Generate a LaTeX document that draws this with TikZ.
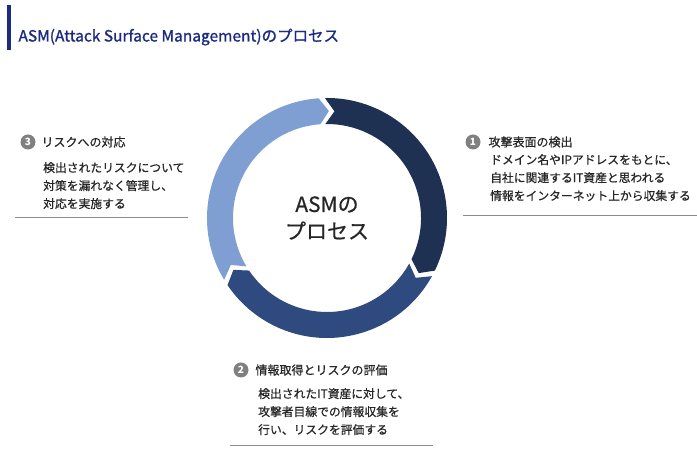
\documentclass[tikz,border=0pt]{standalone}
\usepackage{fontspec}
\setmainfont{Noto Sans CJK JP}
\newfontfamily\fb[FakeBold=1.2]{Noto Sans CJK JP}
\newfontfamily\fm[FakeBold=0.6]{Noto Sans CJK JP}
\definecolor{segA}{HTML}{1F3153}
\definecolor{segB}{HTML}{2E4A7F}
\definecolor{segC}{HTML}{7F9FD3}
\definecolor{ttl}{HTML}{1C2A80}
\definecolor{txt}{HTML}{262626}
\tikzset{
  numc/.style={circle,fill=black!50,text=white,inner sep=0pt,minimum size=15pt,font=\fontsize{10}{10}\selectfont\bfseries},
  head/.style={anchor=west,text=txt,font=\fm\fontsize{12}{15}\selectfont},
  body/.style={anchor=north west,text=txt,align=left,inner sep=0pt,font=\fm\fontsize{11.8}{18}\selectfont},
  rule/.style={draw=black!45,line width=1pt}
}
\usetikzlibrary{calc}
\newcommand{\seg}[2]{%
  \fill[#2] (327,239) ++(#1:120) arc[start angle=#1,end angle=#1-117,radius=120]
    -- ($(327,239)+(#1-122:107)$) -- ($(327,239)+(#1-117:94)$)
    arc[start angle=#1-117,end angle=#1,radius=94]
    -- ($(327,239)+(#1-5:107)$) -- cycle;}
\begin{document}
\begin{tikzpicture}[x=1pt,y=1pt]
\useasboundingbox (0,0) rectangle (697,457);
\fill[ttl] (7,407) rectangle (11,452);
\node[anchor=west,text=ttl,font=\fb\fontsize{15.5}{18}\selectfont] (title) at (15,420) {ASM(Attack Surface Management)のプロセス};
\seg{91}{segA}
\seg{-29}{segB}
\seg{211}{segC}
\node[align=center,text=txt,font=\fm\fontsize{21}{27}\selectfont] (ctr) at (327,239) {ASMの\\プロセス};
% 1
\node[numc] (n1) at (473,315) {1};
\node[head] (h1) at (485,315) {攻撃表面の検出};
\node[body] (b1) at (490,303) {ドメイン名やIPアドレスをもとに、\\自社に関連するIT資産と思われる\\情報をインターネット上から収集する};
\draw[rule] (463,241) -- (697,241);
% 3
\node[numc] (n3) at (28,315) {3};
\node[head] (h3) at (38,315) {リスクへの対応};
\node[body] (b3) at (43,295) {検出されたリスクについて\\対策を漏れなく管理し、\\対応を実施する};
\draw[rule] (15,239) -- (188,239);
% 2
\node[numc] (n2) at (241,87) {2};
\node[head] (h2) at (252,87) {情報取得とリスクの評価};
\node[body] (b2) at (258,69) {検出されたIT資産に対して、\\攻撃者目線での情報収集を\\行い、リスクを評価する};
\draw[rule] (230,11) -- (433,11);
\end{tikzpicture}
\end{document}
